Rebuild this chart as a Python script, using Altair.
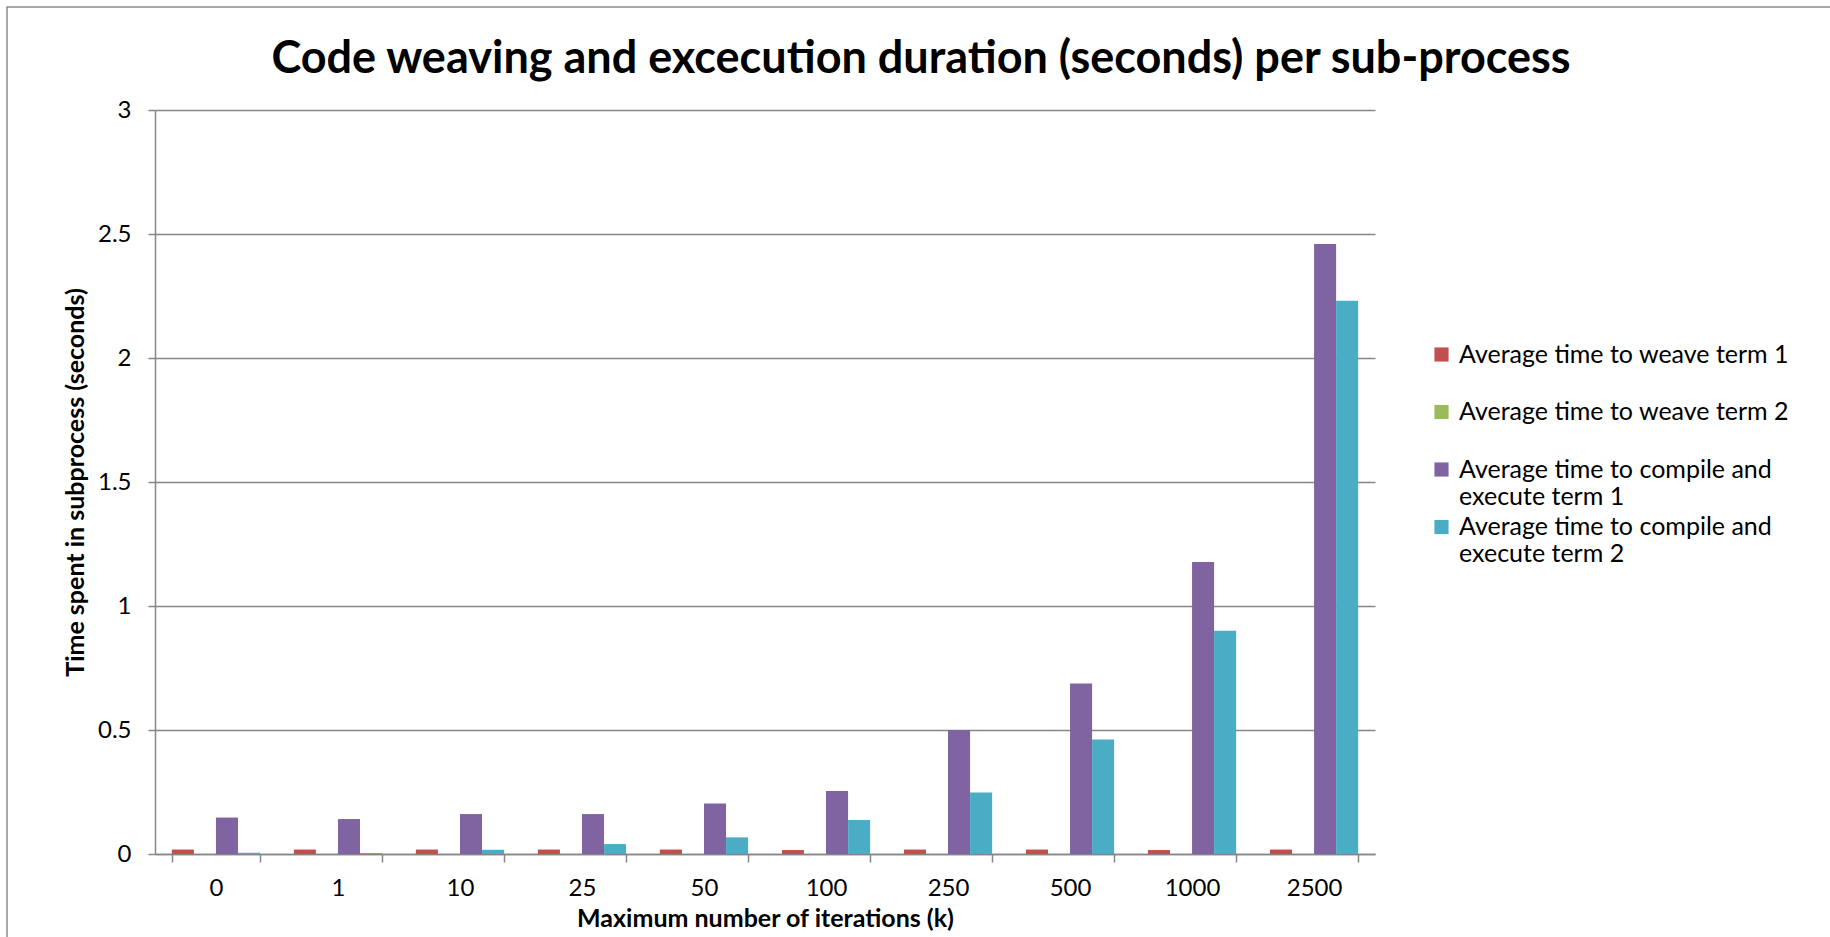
import altair as alt
import pandas as pd

categories = ["0", "1", "10", "25", "50", "100", "250", "500", "1000", "2500"]
series_names = [
    "Average time to weave term 1",
    "Average time to weave term 2",
    "Average time to compile and execute term 1",
    "Average time to compile and execute term 2",
]
colors = ["#C0504D", "#9BBB59", "#8064A2", "#4BACC6"]

weave_term1 = [0.018, 0.018, 0.018, 0.018, 0.018, 0.016, 0.018, 0.018, 0.016, 0.018]
weave_term2 = [0, 0, 0, 0, 0, 0, 0, 0, 0, 0]
compile_term1 = [0.147, 0.141, 0.161, 0.161, 0.204, 0.254, 0.50, 0.688, 1.177, 2.46]
compile_term2 = [0.005, 0.004, 0.017, 0.040, 0.067, 0.137, 0.248, 0.462, 0.90, 2.231]

y_ticks = [0, 0.5, 1, 1.5, 2, 2.5, 3]
title_text = "Code weaving and excecution duration (seconds) per sub-process"

rows = []
for name, vals in zip(series_names, [weave_term1, weave_term2, compile_term1, compile_term2]):
    for c, v in zip(categories, vals):
        rows.append({"category": c, "series": name, "value": v})
df = pd.DataFrame(rows)

FONT = "Lato"
GRID = "#868686"

W, H = 1220, 744

label_expr = (
    "indexof(datum.label, ' execute') > 0 ? "
    "[substring(datum.label, 0, indexof(datum.label, ' execute')), "
    "substring(datum.label, indexof(datum.label, ' execute') + 1)] : datum.label"
)

bars = alt.Chart(df).mark_bar().encode(
    x=alt.X(
        "category:N",
        sort=categories,
        scale=alt.Scale(paddingInner=0.277, paddingOuter=0.138),
        axis=alt.Axis(
            title="Maximum number of iterations (k)",
            labelAngle=0,
            tickBand="extent",
            tickSize=8,
            tickColor=GRID,
            tickWidth=1.5,
            domainColor=GRID,
            domainWidth=1.5,
            labelFontSize=24,
            labelPadding=14,
            labelColor="#000000",
            titleFontSize=25,
            titleFontWeight="bold",
            titleColor="#000000",
            titlePadding=6,
            grid=False,
        ),
    ),
    xOffset=alt.XOffset(
        "series:N", sort=series_names, scale=alt.Scale(paddingInner=0, paddingOuter=0)
    ),
    y=alt.Y(
        "value:Q",
        scale=alt.Scale(domain=[0, 3], nice=False),
        axis=alt.Axis(
            title="Time spent in subprocess (seconds)",
            values=y_ticks,
            format="~g",
            tickSize=7,
            tickColor=GRID,
            tickWidth=1.5,
            domainColor=GRID,
            domainWidth=1.5,
            grid=True,
            gridColor=GRID,
            gridWidth=1.5,
            labelFontSize=24,
            labelPadding=17,
            labelColor="#000000",
            titleFontSize=25,
            titleFontWeight="bold",
            titleColor="#000000",
            titlePadding=9,
        ),
    ),
    color=alt.Color(
        "series:N",
        sort=series_names,
        scale=alt.Scale(domain=series_names, range=colors),
        legend=alt.Legend(
            title=None,
            orient="none",
            legendX=1274,
            legendY=232,
            padding=0,
            symbolType="square",
            symbolSize=200,
            symbolStrokeWidth=0,
            symbolOpacity=1,
            labelFontSize=25,
            labelColor="#000000",
            labelLimit=500,
            labelOffset=5,
            gridAlign="all",
            rowPadding=4.5,
            labelExpr=label_expr,
        ),
    ),
)

border = alt.Chart(alt.Data(values=[{"b": 1}])).mark_rect(
    fill=None, stroke="#8C8C8C", strokeWidth=1.5
).encode(
    x=alt.value(-148), y=alt.value(-103), x2=alt.value(1800), y2=alt.value(1000)
)

title = alt.Chart(alt.Data(values=[{"t": title_text}])).mark_text(
    font=FONT, fontSize=45, fontWeight="bold", color="#000000",
    align="center", baseline="alphabetic"
).encode(
    text="t:N", x=alt.value(766), y=alt.value(-37)
)

chart = alt.layer(border, bars, title).properties(
    width=W,
    height=H,
    autosize=alt.AutoSizeParams(type="none"),
    padding={"left": 155, "top": 110, "right": 1830 - 155 - W, "bottom": 937 - 110 - H},
).configure(font=FONT).configure_view(stroke=None)

chart.save("out.html", embed_options={"renderer": "svg", "actions": False})
